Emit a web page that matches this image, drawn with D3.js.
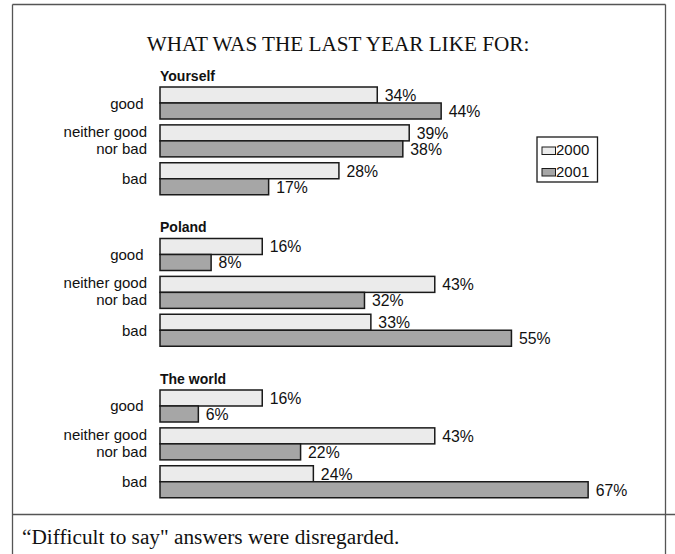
<!DOCTYPE html>
<html>
<head>
<meta charset="utf-8">
<script src="https://cdn.jsdelivr.net/npm/d3@7"></script>
<style>
  html, body { margin: 0; padding: 0; background: #fff; }
  svg { display: block; }
</style>
</head>
<body>
<svg id="chart" width="675" height="554"></svg>
<script>
// ---- data ----
const title = "WHAT WAS THE LAST YEAR LIKE FOR:";
const footnote = "\u201CDifficult to say\" answers were disregarded.";
const sections = ["Yourself", "Poland", "The world"];
const categories = ["good", "neither good|nor bad", "bad"];
const years = ["2000", "2001"];
const values2000 = [[34, 39, 28], [16, 43, 33], [16, 43, 24]];
const values2001 = [[44, 38, 17], [8, 32, 55], [6, 22, 67]];

// ---- build rows ----
const rows = [];
sections.forEach((s, si) => {
  categories.forEach((c, ci) => {
    rows.push({ key: s + "|" + ci, section: s, si, ci, label: c,
      vals: [values2000[si][ci], values2001[si][ci]] });
  });
  if (si < sections.length - 1) rows.push({ key: "gap" + si, gap: true });
});

const svg = d3.select("#chart");
const W = 675, H = 554;

// frame
const frame = svg.append("g").attr("stroke", "#555").attr("stroke-width", 1.3).attr("fill", "none");
frame.append("line").attr("x1", 12.5).attr("x2", 12.5).attr("y1", 4.5).attr("y2", H);
frame.append("line").attr("x1", 665.5).attr("x2", 665.5).attr("y1", 4.5).attr("y2", H);
frame.append("line").attr("x1", 12.5).attr("x2", 665.5).attr("y1", 4.5).attr("y2", 4.5);
frame.append("line").attr("x1", 12.5).attr("x2", W).attr("y1", 514.5).attr("y2", 514.5);

// scales
const x = d3.scaleLinear().domain([0, 100]).range([160, 799]);
const y = d3.scaleBand().domain(rows.map(r => r.key)).range([87, 497.75])
  .paddingInner(0.155).paddingOuter(0);
const ySub = d3.scaleBand().domain(years).range([0, y.bandwidth()]);
const color = d3.scaleOrdinal().domain(years).range(["#ebebeb", "#a6a6a6"]);

// title
svg.append("text").attr("x", 338).attr("y", 51).attr("text-anchor", "middle")
  .style("font-family", "'Liberation Serif', 'Times New Roman', serif")
  .style("font-size", "21.2px").attr("fill", "#111").text(title);

// section headers
sections.forEach((s, si) => {
  svg.append("text").attr("x", 160).attr("y", y(s + "|0") - 6)
    .style("font-family", "'Liberation Sans', Arial, sans-serif")
    .style("font-size", "14px").style("font-weight", "bold").attr("fill", "#111").text(s);
});

const dataRows = rows.filter(r => !r.gap);

// category labels
const lab = svg.append("g")
  .style("font-family", "'Liberation Sans', Arial, sans-serif")
  .style("font-size", "15px").attr("fill", "#111").attr("text-anchor", "end");
dataRows.forEach(r => {
  const parts = r.label.split("|");
  const cy = y(r.key) + y.bandwidth() / 2;
  if (parts.length === 1) {
    lab.append("text").attr("x", r.label === "good" ? 143.5 : 147).attr("y", cy + 5.5).text(parts[0]);
  } else {
    lab.append("text").attr("x", 147).attr("y", cy - 4.3).text(parts[0]);
    lab.append("text").attr("x", 147).attr("y", cy + 13).text(parts[1]);
  }
});

// bars
const barG = svg.append("g");
dataRows.forEach(r => {
  years.forEach((yr, i) => {
    const v = r.vals[i];
    const top = y(r.key) + ySub(yr);
    barG.append("rect")
      .attr("x", x(0)).attr("y", top)
      .attr("width", x(v) - x(0)).attr("height", ySub.bandwidth())
      .attr("fill", color(yr)).attr("stroke", "#1a1a1a").attr("stroke-width", 1.5);
    barG.append("text")
      .attr("x", x(v) + 7.5).attr("y", top + ySub.bandwidth() / 2 + 5.8)
      .style("font-family", "'Liberation Sans', Arial, sans-serif")
      .style("font-size", "15.8px").attr("fill", "#111").text(v + "%");
  });
});

// legend
const leg = svg.append("g");
leg.append("rect").attr("x", 537).attr("y", 137).attr("width", 60.5).attr("height", 45)
  .attr("fill", "#fff").attr("stroke", "#1a1a1a").attr("stroke-width", 1.3);
years.forEach((yr, i) => {
  const by = i === 0 ? 155 : 176.5;
  leg.append("rect").attr("x", 542).attr("y", by - 8).attr("width", 13.5).attr("height", 7.5)
    .attr("fill", color(yr)).attr("stroke", "#1a1a1a").attr("stroke-width", 1);
  leg.append("text").attr("x", 556).attr("y", by)
    .style("font-family", "'Liberation Sans', Arial, sans-serif")
    .style("font-size", "15px").attr("fill", "#111").text(yr);
});

// footnote
svg.append("text").attr("x", 22).attr("y", 544)
  .style("font-family", "'Liberation Serif', 'Times New Roman', serif")
  .style("font-size", "21.3px").attr("fill", "#111").text(footnote);
</script>
</body>
</html>
